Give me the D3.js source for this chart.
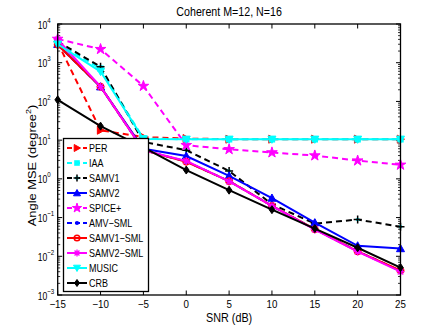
<!DOCTYPE html>
<html>
<head>
<meta charset="utf-8">
<script src="https://cdn.jsdelivr.net/npm/d3@7"></script>
<style>
  body { margin: 0; background: #fff; }
  svg { display: block; font-family: "Liberation Sans", Arial, sans-serif; }
</style>
</head>
<body>
<div id="chart"></div>
<script>
const WIDTH = 443;
const HEIGHT = 332;

const snr = [-15, -10, -5, 0, 5, 10, 15, 20, 25];
const xTicks = [-15, -10, -5, 0, 5, 10, 15, 20, 25];
const yTicks = [-3, -2, -1, 0, 1, 2, 3, 4];

const per     = [3300, 18, 12, 11, 10.6, 10.6, 10.6, 10.6, 10.6];
const iaa     = [3200, 700, 11, 10.5, 10.5, 10.5, 10.5, 10.5, 10.5];
const samv1   = [3500, 790, 9, 5.5, 1.6, 0.22, 0.07, 0.089, 0.058];
const samv2   = [3000, 240, 6, 3.9, 1.2, 0.32, 0.074, 0.0187, 0.0159];
const spice   = [4100, 2240, 250, 7.4, 5.8, 4.8, 4.0, 2.96, 2.3];
const amvsml  = [2900, 240, 5.5, 2.8, 0.87, 0.2, 0.05, 0.0135, 0.0042];
const samv1sml = [2900, 240, 5.5, 2.76, 0.87, 0.2, 0.05, 0.0134, 0.0043];
const samv2sml = [4000, 240, 5.5, 2.9, 0.86, 0.2, 0.049, 0.0132, 0.004];
const music   = [3000, 590, 10.7, 10.5, 10.5, 10.5, 10.5, 10.5, 10.5];
const crb     = [110, 23, 6.5, 1.69, 0.51, 0.16, 0.052, 0.0166, 0.0051];

const series = [
  {name: "PER", values: per, color: "#ff0000", dash: "6,4", marker: "triRight"},
  {name: "IAA", values: iaa, color: "#00ffff", dash: "6,4", marker: "square"},
  {name: "SAMV1", values: samv1, color: "#000000", dash: "6,4", marker: "plus"},
  {name: "SAMV2", values: samv2, color: "#0000ff", dash: null, marker: "triUp"},
  {name: "SPICE+", values: spice, color: "#ff00ff", dash: "6,4", marker: "star"},
  {name: "AMV\u2212SML", values: amvsml, color: "#0000ff", dash: "6,4", marker: "dot"},
  {name: "SAMV1\u2212SML", values: samv1sml, color: "#ff0000", dash: null, marker: "circle"},
  {name: "SAMV2\u2212SML", values: samv2sml, color: "#ff00ff", dash: null, marker: "asterisk"},
  {name: "MUSIC", values: music, color: "#00ffff", dash: null, marker: "triDown"},
  {name: "CRB", values: crb, color: "#000000", dash: null, marker: "diamond"}
];

const margin = {top: 24, right: 42.5, bottom: 37, left: 57.7};
const plotW = WIDTH - margin.left - margin.right;
const plotH = HEIGHT - margin.top - margin.bottom;

const svg = d3.select("#chart").append("svg")
    .attr("width", WIDTH)
    .attr("height", HEIGHT);

// condensed text helper (reference font is narrower than Arial)
function txt(parent, x, y, size, sx, anchor) {
  return parent.append("text")
      .attr("transform", `translate(${x},${y}) scale(${sx},1)`)
      .attr("font-size", size)
      .attr("text-anchor", anchor || "start");
}

const xScale = d3.scaleLinear().domain([-15, 25]).range([0, plotW]);
const yScale = d3.scaleLog().domain([1e-3, 1e4]).range([plotH, 0]);

const g = svg.append("g").attr("transform", `translate(${margin.left},${margin.top})`);

// ticks (inside, both sides)
const minor = [];
for (let e = -3; e < 4; e++) for (let m = 2; m <= 9; m++) minor.push(m * Math.pow(10, e));

g.selectAll(".minorL").data(minor).enter().append("line")
    .attr("x1", 0).attr("x2", 2.5)
    .attr("y1", d => yScale(d)).attr("y2", d => yScale(d))
    .attr("stroke", "#000").attr("stroke-width", 0.8);
g.selectAll(".minorR").data(minor).enter().append("line")
    .attr("x1", plotW).attr("x2", plotW - 2.5)
    .attr("y1", d => yScale(d)).attr("y2", d => yScale(d))
    .attr("stroke", "#000").attr("stroke-width", 0.8);
g.selectAll(".majL").data(yTicks).enter().append("line")
    .attr("x1", 0).attr("x2", 4.5)
    .attr("y1", d => yScale(Math.pow(10, d))).attr("y2", d => yScale(Math.pow(10, d)))
    .attr("stroke", "#000");
g.selectAll(".majR").data(yTicks).enter().append("line")
    .attr("x1", plotW).attr("x2", plotW - 4.5)
    .attr("y1", d => yScale(Math.pow(10, d))).attr("y2", d => yScale(Math.pow(10, d)))
    .attr("stroke", "#000");
g.selectAll(".xB").data(xTicks).enter().append("line")
    .attr("x1", d => xScale(d)).attr("x2", d => xScale(d))
    .attr("y1", plotH).attr("y2", plotH - 4.5)
    .attr("stroke", "#000");
g.selectAll(".xT").data(xTicks).enter().append("line")
    .attr("x1", d => xScale(d)).attr("x2", d => xScale(d))
    .attr("y1", 0).attr("y2", 4.5)
    .attr("stroke", "#000");

// x tick labels
xTicks.forEach(d => {
  txt(g, xScale(d), plotH + 13, 10.5, 0.93, "middle")
      .text(d < 0 ? "\u2212" + Math.abs(d) : d);
});

// y tick labels 10^n
yTicks.forEach(d => {
  const t = txt(g, -20, yScale(Math.pow(10, d)) + 4.5, 10.5, 0.82, "start");
  t.append("tspan").text("10");
  t.append("tspan").attr("dy", -6).attr("font-size", 7.5)
      .text(d < 0 ? "\u2212" + Math.abs(d) : d);
});

// markers
function drawMarker(sel, type, color, size) {
  const s = size;
  if (type === "triRight") {
    sel.append("path").attr("d", `M${-s*0.8},${-s}L${s},0L${-s*0.8},${s}Z`).attr("fill", color).attr("stroke", color);
  } else if (type === "triUp") {
    sel.append("path").attr("d", `M0,${-s}L${s},${s*0.8}L${-s},${s*0.8}Z`).attr("fill", color).attr("stroke", color);
  } else if (type === "triDown") {
    sel.append("path").attr("d", `M0,${s}L${s},${-s*0.8}L${-s},${-s*0.8}Z`).attr("fill", color).attr("stroke", color);
  } else if (type === "square") {
    sel.append("rect").attr("x", -s*0.8).attr("y", -s*0.8).attr("width", s*1.6).attr("height", s*1.6).attr("fill", color);
  } else if (type === "plus") {
    sel.append("rect").attr("x", -1.5).attr("y", -1.5).attr("width", 3).attr("height", 3).attr("fill", "#00ffff");
    sel.append("path").attr("d", `M${-s},0H${s}M0,${-s}V${s}`).attr("stroke", color).attr("stroke-width", 1.5);
  } else if (type === "star") {
    sel.append("path").attr("d", d3.symbol(d3.symbolStar, s * s * 2.2)()).attr("fill", color).attr("stroke", color);
  } else if (type === "dot") {
    sel.append("circle").attr("r", s * 0.6).attr("fill", color);
  } else if (type === "circle") {
    sel.append("circle").attr("r", s * 0.8).attr("fill", "none").attr("stroke", color).attr("stroke-width", 1.5);
  } else if (type === "asterisk") {
    sel.append("path").attr("d", `M${-s},0H${s}M0,${-s}V${s}M${-s*0.7},${-s*0.7}L${s*0.7},${s*0.7}M${-s*0.7},${s*0.7}L${s*0.7},${-s*0.7}`)
      .attr("stroke", color).attr("stroke-width", 1.3);
  } else if (type === "diamond") {
    sel.append("path").attr("d", `M0,${-s}L${s*0.7},0L0,${s}L${-s*0.7},0Z`).attr("fill", color).attr("stroke", color);
  }
}

const line = d3.line()
    .x((d, i) => xScale(snr[i]))
    .y(d => yScale(d));

const plot = g.append("g");
series.forEach(s => {
  plot.append("path")
      .datum(s.values)
      .attr("fill", "none")
      .attr("stroke", s.color)
      .attr("stroke-width", 2)
      .attr("stroke-dasharray", s.dash)
      .attr("d", line);
  s.values.forEach((v, i) => {
    const m = plot.append("g").attr("transform", `translate(${xScale(snr[i])},${yScale(v)})`);
    drawMarker(m, s.marker, s.color, 4);
  });
});

// axes box
g.append("rect")
    .attr("width", plotW).attr("height", plotH)
    .attr("fill", "none").attr("stroke", "#000").attr("stroke-width", 1.3);

// legend
const legend = svg.append("g").attr("transform", "translate(63.5,138.5)");
legend.append("rect")
    .attr("width", 85).attr("height", 153)
    .attr("fill", "#fff").attr("stroke", "#000").attr("stroke-width", 1.3);
series.forEach((s, i) => {
  const y = 9.5 + i * 15;
  legend.append("line")
      .attr("x1", 3.5).attr("x2", 23.5)
      .attr("y1", y).attr("y2", y)
      .attr("stroke", s.color).attr("stroke-width", 2)
      .attr("stroke-dasharray", s.dash ? "5,3" : null);
  const m = legend.append("g").attr("transform", `translate(13.5,${y})`);
  drawMarker(m, s.marker, s.color, 3.5);
  txt(legend, 25.5, y + 4, 10.7, 0.84, "start").text(s.name);
});

// title and labels
txt(svg, margin.left + plotW / 2, 16, 12, 0.89, "middle")
    .text("Coherent M=12, N=16");

txt(svg, margin.left + plotW / 2, 322, 12, 0.9, "middle")
    .text("SNR (dB)");

const ylab = svg.append("text")
    .attr("transform", `translate(35.5,${margin.top + plotH / 2 + 6}) rotate(-90) scale(1.12,1)`)
    .attr("text-anchor", "middle").attr("font-size", 11.5);
ylab.append("tspan").text("Angle MSE (degree");
ylab.append("tspan").attr("dy", -5).attr("font-size", 8).text("2");
ylab.append("tspan").attr("dy", 5).text(")");
</script>
</body>
</html>
